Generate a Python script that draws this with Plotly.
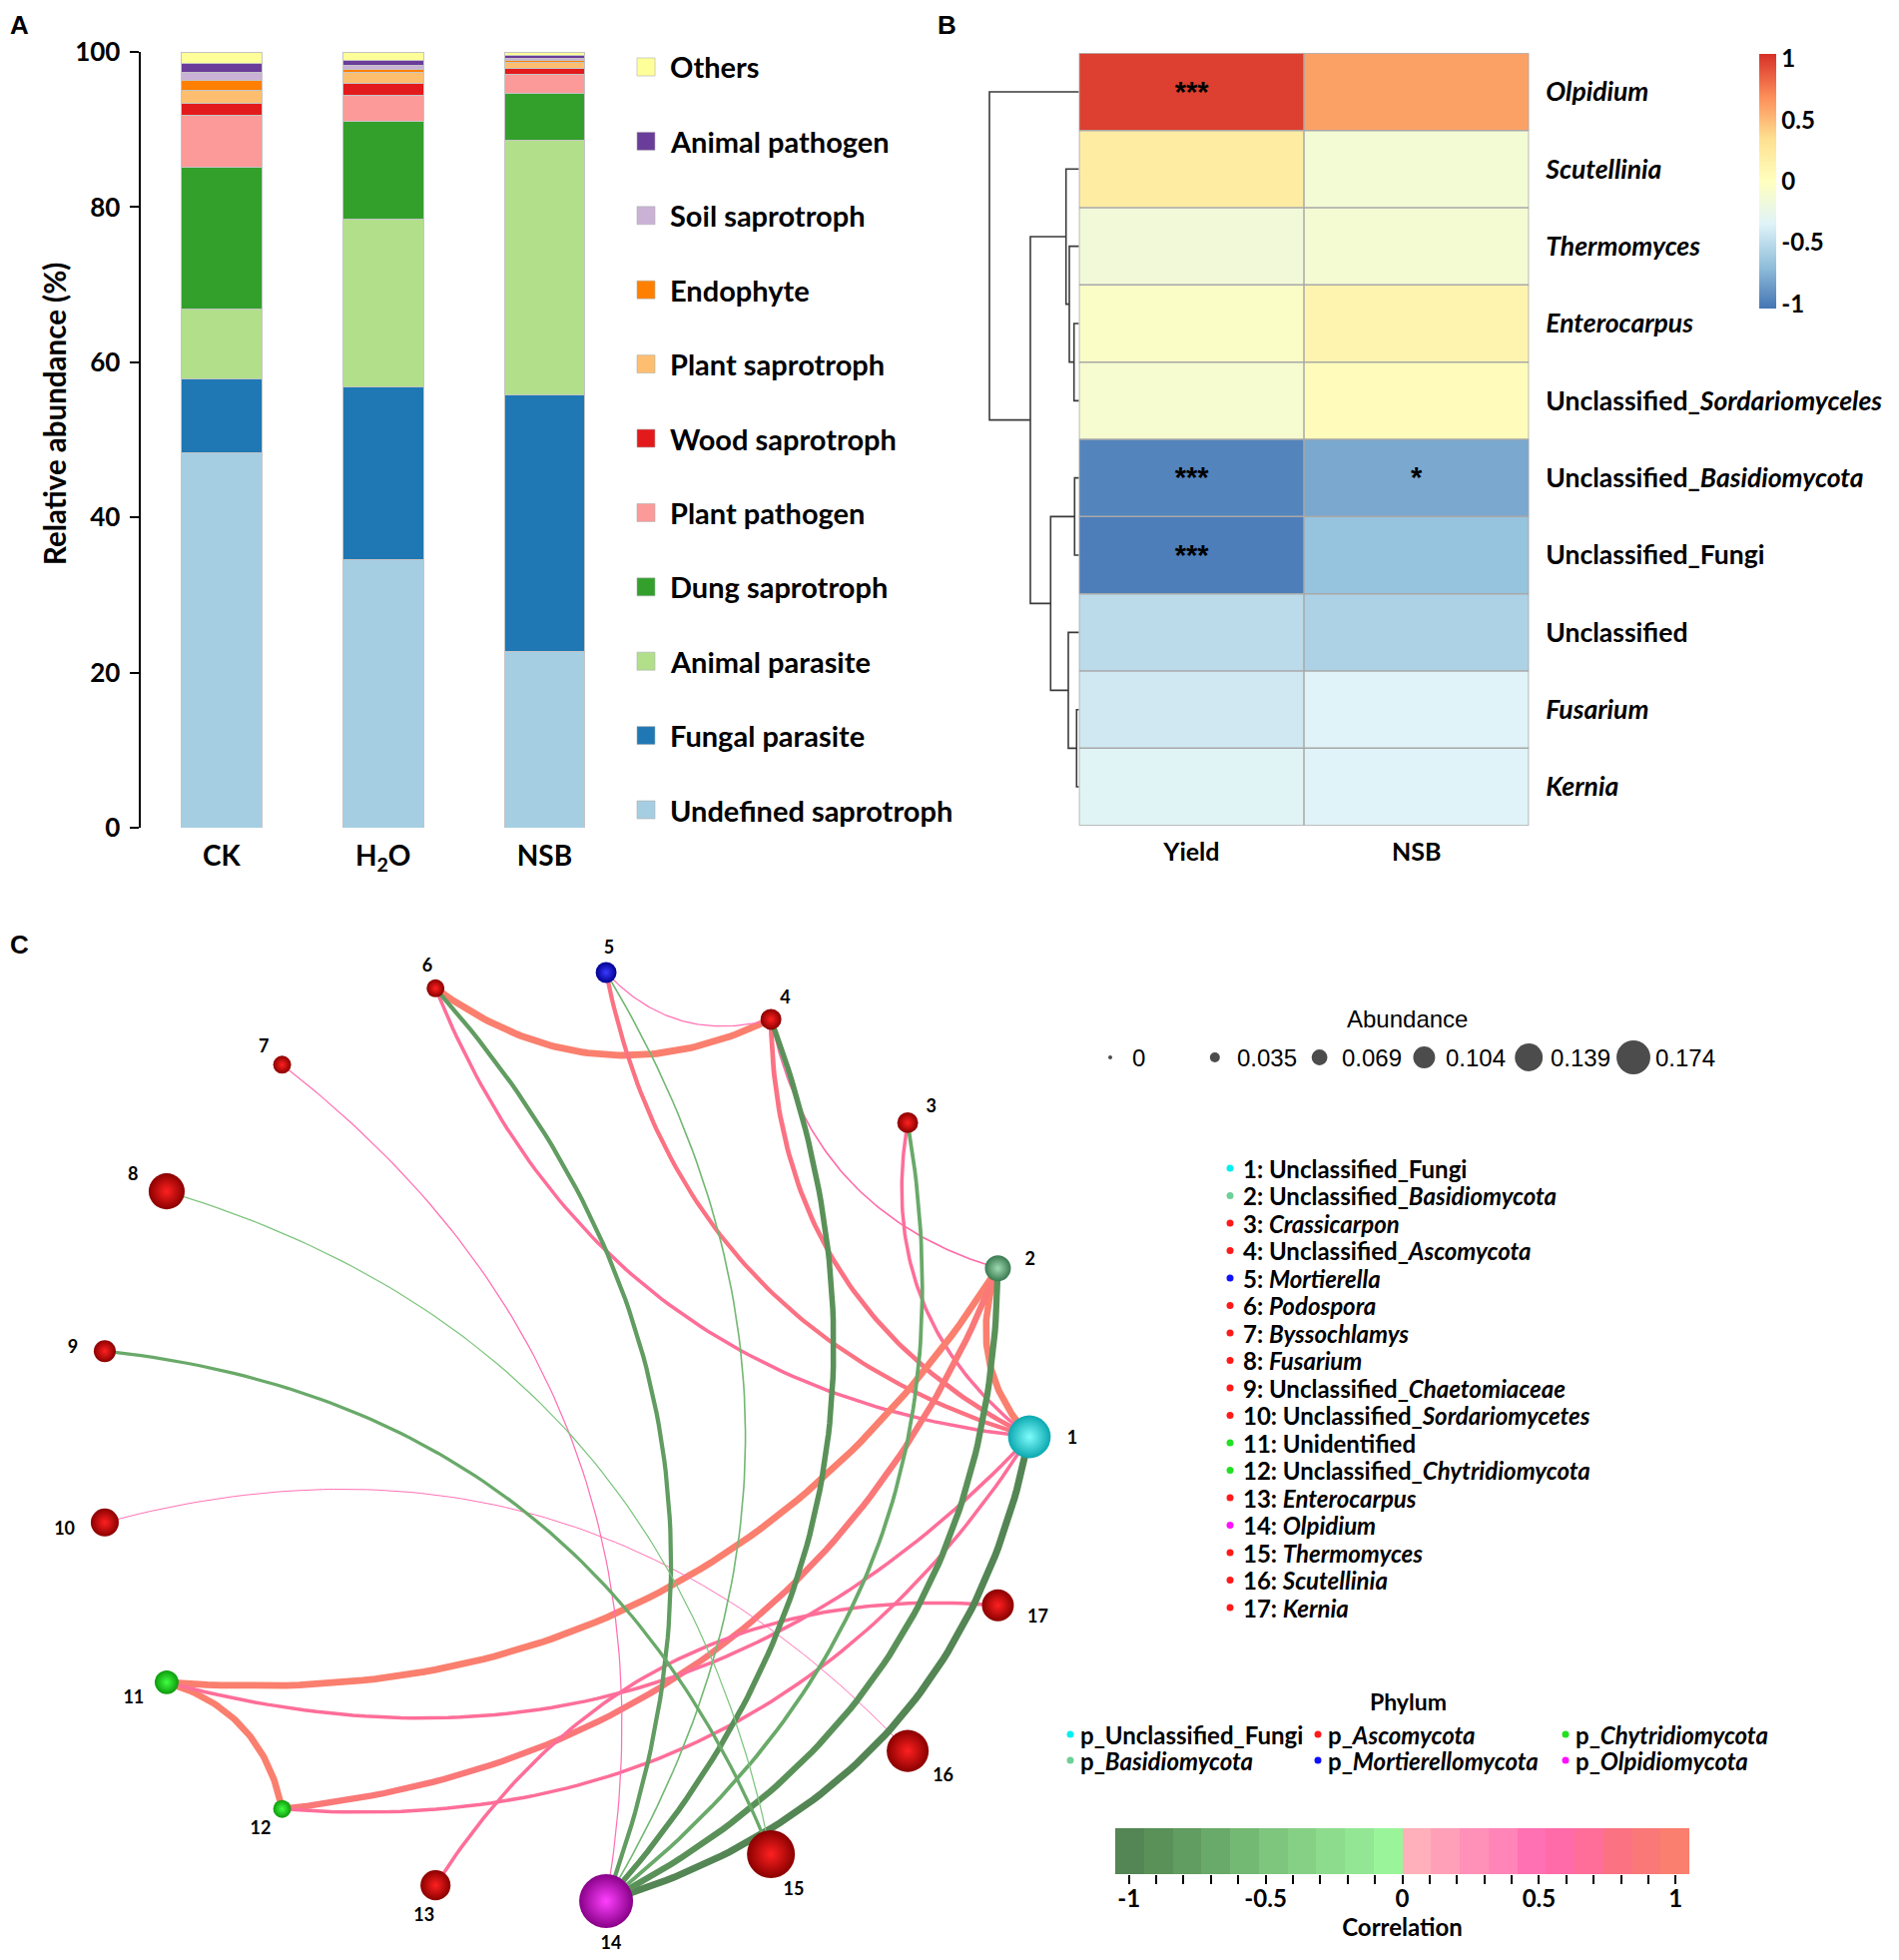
import numpy as np
import plotly.graph_objects as go

W, H = 1902, 1963
OFF = 8                      # page body margin of the html page
FW, FH = W - 2 * OFF, H - 2 * OFF
def px(x): return (x - OFF) / FW
def py(y): return 1 - (y - OFF) / FH

FONT = "Lato"
ARIAL = "Liberation Sans"

# ---------------- Panel A data ----------------
groups = ["CK", "H<sub>2</sub>O", "NSB"]
guilds = ["Undefined saprotroph", "Fungal parasite", "Animal parasite", "Dung saprotroph",
          "Plant pathogen", "Wood saprotroph", "Plant saprotroph", "Endophyte",
          "Soil saprotroph", "Animal pathogen", "Others"]
undefined_saprotroph = [48.3, 34.5, 22.7]
fungal_parasite = [9.6, 22.3, 33.1]
animal_parasite = [9.0, 21.6, 32.8]
dung_saprotroph = [18.3, 12.6, 6.1]
plant_pathogen = [6.6, 3.4, 2.4]
wood_saprotroph = [1.6, 1.5, 0.8]
plant_saprotroph = [1.7, 1.4, 0.7]
endophyte = [1.2, 0.5, 0.3]
soil_saprotroph = [1.1, 0.5, 0.3]
animal_pathogen = [1.1, 0.6, 0.3]
others = [1.5, 1.1, 0.5]
guild_values = [undefined_saprotroph, fungal_parasite, animal_parasite, dung_saprotroph,
                plant_pathogen, wood_saprotroph, plant_saprotroph, endophyte,
                soil_saprotroph, animal_pathogen, others]
guild_colors = ["#a6cee3", "#1f78b4", "#b2df8a", "#33a02c", "#fb9a99", "#e31a1c",
                "#fdbf6f", "#ff7f00", "#cab2d6", "#6a3d9a", "#ffff99"]
y_ticks_a = [0, 20, 40, 60, 80, 100]

# ---------------- Panel B data ----------------
genus_labels = ["<i>Olpidium</i>", "<i>Scutellinia</i>", "<i>Thermomyces</i>", "<i>Enterocarpus</i>",
                "Unclassified_<i>Sordariomyceles</i>", "Unclassified_<i>Basidiomycota</i>",
                "Unclassified_Fungi", "Unclassified", "<i>Fusarium</i>", "<i>Kernia</i>"]
factors = ["Yield", "NSB"]
corr_yield = [0.98, 0.21, -0.16, -0.05, -0.10, -0.97, -1.00, -0.51, -0.42, -0.33]
corr_nsb = [0.61, -0.13, -0.12, 0.12, 0.03, -0.80, -0.67, -0.57, -0.35, -0.35]
sig_yield = ["***", "", "", "", "", "***", "***", "", "", ""]
sig_nsb = ["", "", "", "", "", "*", "", "", "", ""]
# dendrogram merges: (child a, child b, height); leaves 0..9, clusters 10+
dendro_merges = [(8, 9, 2.4), (5, 6, 4.4), (3, 4, 5.0), (2, 12, 9.7), (7, 10, 10.7),
                 (1, 13, 13.0), (11, 14, 28.4), (15, 16, 48.7), (0, 17, 89.7)]
heat_colors = ["#4575B4", "#91BFDB", "#E0F3F8", "#FFFFBF", "#FEE090", "#FC8D59", "#D73027"]
heat_lo, heat_hi = -1.04, 1.04
cbar_ticks_b = [1, 0.5, 0, -0.5, -1]

# ---------------- Panel C data ----------------
node_ids = list(range(1, 18))
node_names = ["Unclassified_Fungi", "Unclassified_<i>Basidiomycota</i>", "<i>Crassicarpon</i>",
              "Unclassified_<i>Ascomycota</i>", "<i>Mortierella</i>", "<i>Podospora</i>",
              "<i>Byssochlamys</i>", "<i>Fusarium</i>", "Unclassified_<i>Chaetomiaceae</i>",
              "Unclassified_<i>Sordariomycetes</i>", "Unidentified",
              "Unclassified_<i>Chytridiomycota</i>", "<i>Enterocarpus</i>", "<i>Olpidium</i>",
              "<i>Thermomyces</i>", "<i>Scutellinia</i>", "<i>Kernia</i>"]
node_phylum = ["Unclassified_Fungi", "Basidiomycota", "Ascomycota", "Ascomycota",
               "Mortierellomycota", "Ascomycota", "Ascomycota", "Ascomycota", "Ascomycota",
               "Ascomycota", "Chytridiomycota", "Chytridiomycota", "Ascomycota",
               "Olpidiomycota", "Ascomycota", "Ascomycota", "Ascomycota"]
node_abundance = [0.125, 0.052, 0.030, 0.030, 0.030, 0.017, 0.017, 0.096, 0.035, 0.061,
                  0.043, 0.017, 0.070, 0.174, 0.148, 0.122, 0.078]
edge_src = [4, 4, 1, 1, 1, 2, 1, 1, 2, 2, 11, 1, 1, 13, 10, 7, 1, 2, 4, 3, 6, 5, 8, 9]
edge_tgt = [6, 5, 5, 6, 4, 4, 3, 2, 11, 12, 12, 11, 12, 17, 16, 14, 14, 14, 14, 14, 14, 14, 15, 15]
edge_r = [0.97, 0.52, 0.76, 0.70, 0.80, 0.55, 0.70, 0.95, 0.96, 0.92, 0.95, 0.70, 0.70, 0.70,
          0.50, 0.52, -0.98, -0.92, -0.86, -0.72, -0.76, -0.55, -0.52, -0.68]
abundance_legend = [0, 0.035, 0.069, 0.104, 0.139, 0.174]
phyla = ["Unclassified_Fungi", "Basidiomycota", "Ascomycota", "Mortierellomycota",
         "Chytridiomycota", "Olpidiomycota"]
phyla_labels = ["p_Unclassified_Fungi", "p_<i>Basidiomycota</i>", "p_<i>Ascomycota</i>",
                "p_<i>Mortierellomycota</i>", "p_<i>Chytridiomycota</i>", "p_<i>Olpidiomycota</i>"]
phylum_dot = {"Unclassified_Fungi": "#00f0f0", "Basidiomycota": "#6fcf9a", "Ascomycota": "#ff1a1a",
              "Mortierellomycota": "#1010ff", "Chytridiomycota": "#22e022", "Olpidiomycota": "#ff10ff"}
phylum_center = {"Unclassified_Fungi": "#7ffcfc", "Basidiomycota": "#a0dab2", "Ascomycota": "#ff2020",
                 "Mortierellomycota": "#3a3aff", "Chytridiomycota": "#40ff40", "Olpidiomycota": "#ff40ff"}
phylum_edge = {"Unclassified_Fungi": "#0aa8b0", "Basidiomycota": "#3a7a50", "Ascomycota": "#8a0000",
               "Mortierellomycota": "#000090", "Chytridiomycota": "#0c9a0c", "Olpidiomycota": "#880088"}
corr_colors = ["#548554", "#5a9159", "#619c61", "#69a969", "#73b873", "#7ec57e", "#86d086",
               "#8ddc8d", "#93e693", "#9af59a", "#ffb0ba", "#ffa0b8", "#ff90b7", "#ff85b8",
               "#ff71b3", "#ff6aa8", "#fe6e99", "#fb7283", "#fa7878", "#fa7f6e"]
corr_lo, corr_hi = -1.05, 1.05
corr_ticks = [-1, -0.5, 0, 0.5, 1]

fig = go.Figure()

# ================= Panel A: stacked bars =================
xs = list(range(len(groups)))
for name, vals, col in zip(guilds, guild_values, guild_colors):
    fig.add_trace(go.Bar(x=xs, y=vals, name=name, width=0.5,
                         marker=dict(color=col, line=dict(color="#c4c4c4", width=1)),
                         xaxis="x", yaxis="y", showlegend=False, hoverinfo="skip"))

# ================= Panel B: heatmap + dendrogram =================
nrow = len(genus_labels)
z = [[a, b] for a, b in zip(corr_yield, corr_nsb)]
txt = [[a, b] for a, b in zip(sig_yield, sig_nsb)]
cs_b = [[i / (len(heat_colors) - 1), c] for i, c in enumerate(heat_colors)]
fig.add_trace(go.Heatmap(
    z=z, x=list(range(len(factors))), y=list(range(nrow)), text=txt, texttemplate="%{text}",
    textfont=dict(family=ARIAL, size=29, color="black", weight="bold"),
    colorscale=cs_b, zmin=heat_lo, zmax=heat_hi, xaxis="x2", yaxis="y2", hoverinfo="skip",
    colorbar=dict(x=px(1762), xanchor="left", xref="paper", y=py(181.5), yanchor="middle",
                  yref="paper", len=255 / FH, lenmode="fraction", thickness=17,
                  thicknessmode="pixels", outlinewidth=0, xpad=0, ypad=0,
                  tickvals=cbar_ticks_b, ticktext=[str(t) for t in cbar_ticks_b], ticks="",
                  tickfont=dict(family=FONT, size=24, color="black", weight="bold"))))

pos = {i: (0.0, float(i)) for i in range(nrow)}
dxs, dys = [], []
for k, (a, b, h) in enumerate(dendro_merges):
    ha, ya = pos[a]
    hb, yb = pos[b]
    dxs += [ha, h, h, hb, None]
    dys += [ya, ya, yb, yb, None]
    pos[nrow + k] = (h, (ya + yb) / 2)
fig.add_trace(go.Scatter(x=dxs, y=dys, mode="lines", line=dict(color="#3a3a3a", width=1.6),
                         xaxis="x3", yaxis="y2", hoverinfo="skip", showlegend=False))

shapes = []
for i in range(nrow + 1):
    shapes.append(dict(type="line", xref="x2", yref="y2", x0=-0.5, x1=len(factors) - 0.5,
                       y0=i - 0.5, y1=i - 0.5, line=dict(color="#a8a8a8", width=1.5)))
for j in range(len(factors) + 1):
    shapes.append(dict(type="line", xref="x2", yref="y2", x0=j - 0.5, x1=j - 0.5,
                       y0=-0.5, y1=nrow - 0.5, line=dict(color="#a8a8a8", width=1.5)))

# ================= Panel C: network (circular layout) =================
n = len(node_ids)
theta = 2 * np.pi * np.arange(n) / n
ncx, ncy = np.cos(theta), np.sin(theta)
R_PX, CX, CY = 467.0, 564.0, 1439.0

def corr_color(r):
    idx = int(np.floor((r - corr_lo) / ((corr_hi - corr_lo) / len(corr_colors))))
    return corr_colors[min(max(idx, 0), len(corr_colors) - 1)]

t = np.linspace(0, 1, 80)
for s, e, r in zip(edge_src, edge_tgt, edge_r):
    p0 = np.array([ncx[s - 1], ncy[s - 1]])
    p2 = np.array([ncx[e - 1], ncy[e - 1]])
    d = p2 - p0
    c = (p0 + p2) / 2 + 0.30 * np.array([-d[1], d[0]])
    bx = (1 - t) ** 2 * p0[0] + 2 * (1 - t) * t * c[0] + t ** 2 * p2[0]
    by = (1 - t) ** 2 * p0[1] + 2 * (1 - t) * t * c[1] + t ** 2 * p2[1]
    fig.add_trace(go.Scatter(x=bx, y=by, mode="lines",
                             line=dict(color=corr_color(r), width=1 + (abs(r) - 0.5) * 12.5),
                             xaxis="x4", yaxis="y4", hoverinfo="skip", showlegend=False))

node_size = [14 + 230 * a for a in node_abundance]
# plotly's radial gradient: marker colour at the rim, gradient colour at the centre
fig.add_trace(go.Scatter(
    x=ncx, y=ncy, mode="markers", xaxis="x4", yaxis="y4", hoverinfo="skip", showlegend=False,
    cliponaxis=False,
    marker=dict(size=node_size, color=[phylum_edge[p] for p in node_phylum], opacity=1,
                gradient=dict(type="radial", color=[phylum_center[p] for p in node_phylum]),
                line=dict(width=0))))
# labels just outside each node, pushed sideways by half the label width
lab_x = [(c * (R_PX + sz / 2 + 16) + c * 5.5 * len(str(i))) / R_PX
         for c, sz, i in zip(ncx, node_size, node_ids)]
lab_y = [(s * (R_PX + sz / 2 + 15)) / R_PX - 2 / R_PX for s, sz in zip(ncy, node_size)]
fig.add_trace(go.Scatter(
    x=lab_x, y=lab_y, mode="text", text=[str(i) for i in node_ids], cliponaxis=False,
    textfont=dict(family=FONT, size=18, color="black", weight="bold"),
    xaxis="x4", yaxis="y4", hoverinfo="skip", showlegend=False))

# correlation colour strip
nb = len(corr_colors)
bw = (corr_hi - corr_lo) / nb
centers = [corr_lo + bw * (i + 0.5) for i in range(nb)]
cs_c = []
for i, col in enumerate(corr_colors):
    cs_c += [[i / nb, col], [(i + 1) / nb, col]]
fig.add_trace(go.Heatmap(z=[list(range(nb))], x=centers, y0=0.5, dy=1, colorscale=cs_c,
                         zmin=-0.5, zmax=nb - 0.5, showscale=False, xaxis="x5", yaxis="y5",
                         hoverinfo="skip"))

# ================= legends (overlay pixel axis) =================
ann = []
def text(x, y, s, size, family=FONT, bold=True, anchor="left", angle=0):
    ann.append(dict(x=px(x), y=py(y), xref="paper", yref="paper", text=s, showarrow=False,
                    xanchor=anchor, yanchor="middle", textangle=angle,
                    font=dict(family=family, size=size, color="black",
                              weight="bold" if bold else "normal")))

# panel A legend (top: Others ... bottom: Undefined saprotroph)
leg_order = list(range(len(guilds)))[::-1]
leg_y = [67 + i * 74.4 for i in range(len(leg_order))]
fig.add_trace(go.Scatter(x=[647] * len(leg_order), y=leg_y, mode="markers",
                         marker=dict(symbol="square", size=18,
                                     color=[guild_colors[k] for k in leg_order],
                                     line=dict(color="#b0b0b0", width=0.6)),
                         xaxis="x6", yaxis="y6", hoverinfo="skip", showlegend=False))
for k, yy in zip(leg_order, leg_y):
    text(669, yy, guilds[k], 29)

# abundance legend
ab_x = [1112 + i * 104.8 for i in range(len(abundance_legend))]
fig.add_trace(go.Scatter(x=ab_x, y=[1059] * len(ab_x), mode="markers",
                         marker=dict(size=[4 + 172 * v for v in abundance_legend], color="black",
                                     line=dict(width=0)),
                         xaxis="x6", yaxis="y6", hoverinfo="skip", showlegend=False))
text(1409, 1021, "Abundance", 24, family=ARIAL, bold=False, anchor="center")
for xx, v in zip(ab_x, abundance_legend):
    text(xx + 20, 1059, f"{v:g}", 24, family=ARIAL, bold=False)

# node legend
nl_y = [1170 + i * 27.5 for i in range(n)]
fig.add_trace(go.Scatter(x=[1232] * n, y=nl_y, mode="markers",
                         marker=dict(size=7, color=[phylum_dot[p] for p in node_phylum]),
                         xaxis="x6", yaxis="y6", hoverinfo="skip", showlegend=False))
for i, yy in zip(node_ids, nl_y):
    text(1243, yy, f"{i}: {node_names[i - 1]}", 24)

# phylum legend
text(1410, 1704, "Phylum", 23, anchor="center")
ph_x = [1072 + (i // 2) * 248 for i in range(len(phyla))]
ph_y = [1737 + (i % 2) * 26 for i in range(len(phyla))]
fig.add_trace(go.Scatter(x=ph_x, y=ph_y, mode="markers",
                         marker=dict(size=7, color=[phylum_dot[p] for p in phyla]),
                         xaxis="x6", yaxis="y6", hoverinfo="skip", showlegend=False))
for xx, yy, lab in zip(ph_x, ph_y, phyla_labels):
    text(xx + 8, yy, lab, 24)

# panel labels & axis title
text(19, 25, "A", 26, family=ARIAL, anchor="center")
text(948, 25, "B", 26, family=ARIAL, anchor="center")
text(19, 946, "C", 26, family=ARIAL, anchor="center")
text(55, 415, "Relative abundance (%)", 29.5, anchor="center", angle=-90)

bold = lambda s: dict(family=FONT, size=s, color="black", weight="bold")

fig.update_layout(
    template="none",
    width=FW, height=FH, margin=dict(l=0, r=0, t=0, b=0, pad=0), paper_bgcolor="white",
    plot_bgcolor="rgba(0,0,0,0)", barmode="stack", showlegend=False,
    annotations=ann, shapes=shapes,
    # panel A
    xaxis=dict(domain=[px(140.6), px(626)], range=[-0.503, 2.498], anchor="y",
               tickvals=xs, ticktext=groups, showline=False, ticks="", showgrid=False,
               zeroline=False, tickfont=bold(28), ticklabelstandoff=9, automargin=False),
    yaxis=dict(domain=[py(829), py(52)], range=[0, 100], anchor="x", tickvals=y_ticks_a,
               showline=True, linecolor="black", linewidth=2, ticks="outside", ticklen=9,
               tickwidth=2, tickcolor="black", showgrid=False, zeroline=False,
               tickfont=bold(26), ticklabelstandoff=4, automargin=False),
    # panel B heatmap
    xaxis2=dict(domain=[px(1080.7), px(1531.3)], range=[-0.5, 1.5], anchor="y2",
                tickvals=list(range(len(factors))), ticktext=factors, ticks="",
                showgrid=False, zeroline=False, showline=False, tickfont=bold(25),
                ticklabelstandoff=9, automargin=False),
    yaxis2=dict(domain=[py(826.7), py(53.3)], range=[nrow - 0.5, -0.5], anchor="x2",
                side="right", tickvals=list(range(nrow)), ticktext=genus_labels, ticks="",
                showgrid=False, zeroline=False, showline=False, tickfont=bold(26.5),
                ticklabelstandoff=16, automargin=False),
    xaxis3=dict(domain=[px(1080.7 - 92), px(1080.7)], range=[92, 0], anchor="y2",
                visible=False, automargin=False),
    # panel C network
    xaxis4=dict(domain=[px(20), px(1116)], range=[(20 - CX) / R_PX, (1116 - CX) / R_PX],
                anchor="y4", visible=False, automargin=False),
    yaxis4=dict(domain=[py(H - OFF), py(890)], range=[-(H - OFF - CY) / R_PX, (CY - 890) / R_PX],
                anchor="x4", visible=False, automargin=False),
    # correlation strip
    xaxis5=dict(domain=[px(1117), px(1692)], range=[corr_lo, corr_hi], anchor="y5",
                tickvals=corr_ticks, ticktext=[f"{v:g}" for v in corr_ticks], ticks="outside",
                ticklen=9, tickwidth=1.5, tickcolor="black", showgrid=False, zeroline=False,
                showline=False, tickfont=bold(24), automargin=False, ticklabelstandoff=-6,
                minor=dict(dtick=0.1, tick0=0, ticks="outside", ticklen=9, tickwidth=1.5,
                           tickcolor="black", showgrid=False),
                title=dict(text="Correlation", font=bold(24), standoff=0)),
    yaxis5=dict(domain=[py(1877), py(1831)], range=[0, 1], anchor="x5", visible=False,
                automargin=False),
    # overlay pixel axis for legends
    xaxis6=dict(domain=[0, 1], range=[OFF, W - OFF], anchor="y6", visible=False,
                automargin=False),
    yaxis6=dict(domain=[0, 1], range=[H - OFF, OFF], anchor="x6", visible=False,
                automargin=False),
)

fig.write_html("out.html")
